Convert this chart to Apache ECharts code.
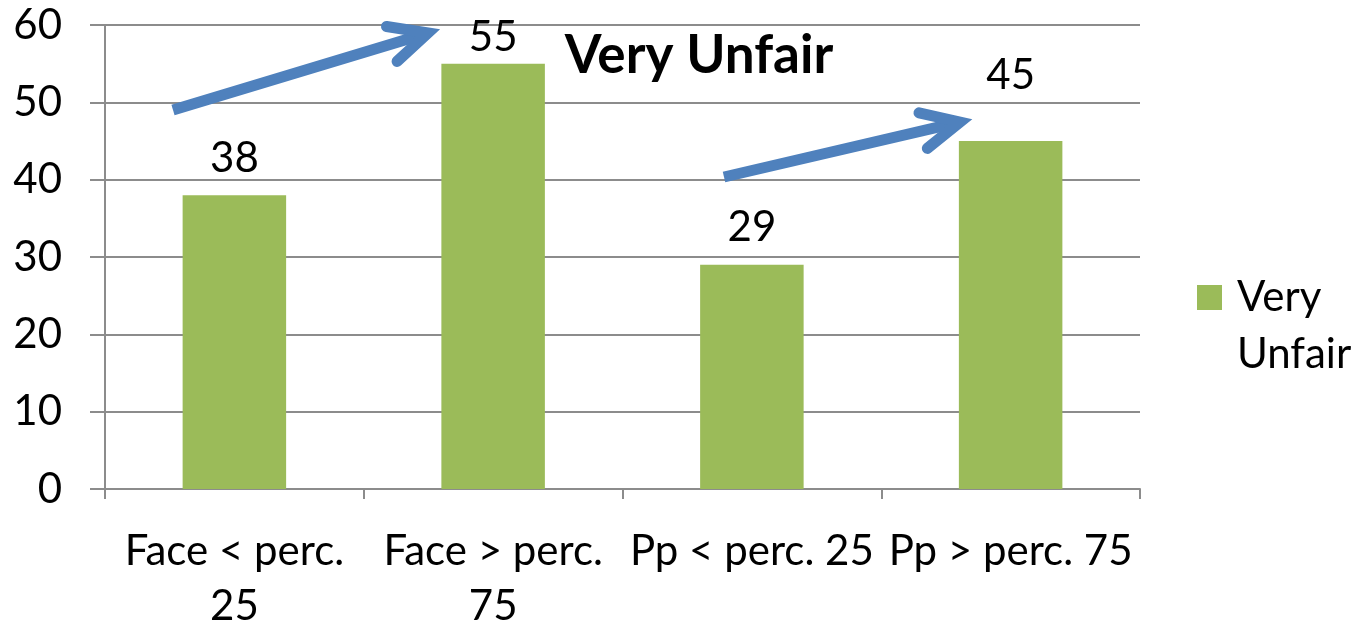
<!DOCTYPE html>
<html>
<head>
<meta charset="utf-8">
<script src="https://cdn.jsdelivr.net/npm/echarts@6/dist/echarts.min.js"></script>
<style>
  html, body { margin: 0; padding: 0; background: #fff; }
  #chart { width: 1362px; height: 628px; }
</style>
</head>
<body>
<div id="chart"></div>
<script>
const categories = ["Face < perc. 25", "Face > perc. 75", "Pp < perc. 25", "Pp > perc. 75"];
const tickLabels = ["Face < perc.\n25", "Face > perc.\n75", "Pp < perc. 25", "Pp > perc. 75"];
const veryUnfair = [38, 55, 29, 45];
const seriesName = "Very Unfair";

const font = "Lato, 'Noto Sans', sans-serif";
const green = "#9BBB59";
const blue = "#4F81BD";
const gridColor = "#8C8C8C";

// the two value labels that were nudged by hand in the original
const labelDistance = { 1: 5, 3: 45 };

// annotation arrows (pixel positions, decoration only)
function arrow(x1, y1, x2, y2) {
  const ang = Math.atan2(y2 - y1, x2 - x1);
  const len = 42, spread = 0.45;
  const a1 = [x2 - len * Math.cos(ang - spread), y2 - len * Math.sin(ang - spread)];
  const a2 = [x2 - len * Math.cos(ang + spread), y2 - len * Math.sin(ang + spread)];
  const style = { stroke: blue, lineWidth: 11, fill: null };
  return [
    { type: "line", shape: { x1: x1, y1: y1, x2: x2 - 6 * Math.cos(ang), y2: y2 - 6 * Math.sin(ang) }, style: style, z: 100 },
    { type: "polyline", shape: { points: [a1, [x2, y2], a2] }, style: Object.assign({ lineCap: "round", lineJoin: "miter" }, style), z: 100 }
  ];
}

const barData = veryUnfair.map(function (v, i) {
  return labelDistance[i] !== undefined ? { value: v, label: { distance: labelDistance[i] } } : v;
});

const myChart = echarts.init(document.getElementById("chart"));
const option = {
  animation: false,
  textStyle: { fontFamily: font },
  title: {
    text: "Very Unfair",
    left: 694,
    top: 24,
    textAlign: "center",
    textStyle: { fontFamily: font, fontSize: 53, fontWeight: "bold", color: "#000" }
  },
  legend: {
    data: [seriesName],
    left: 1197,
    top: 212,
    padding: 0,
    orient: "vertical",
    itemWidth: 25,
    itemHeight: 25,
    icon: "rect",
    formatter: function (name) { return "\n" + name.replace(" ", "\n"); },
    textStyle: { fontFamily: font, fontSize: 42, color: "#000", lineHeight: 57, padding: [0, 0, 0, 10] }
  },
  grid: { left: 105, right: 222, top: 25, bottom: 139, containLabel: false, outerBoundsMode: "none" },
  xAxis: {
    type: "category",
    data: categories,
    axisLine: { lineStyle: { color: gridColor, width: 2 } },
    axisTick: { show: true, length: 10, lineStyle: { color: gridColor, width: 2 } },
    axisLabel: {
      margin: 35,
      fontSize: 42,
      lineHeight: 55,
      color: "#000",
      fontFamily: font,
      interval: 0,
      formatter: function (v, i) { return tickLabels[i]; }
    }
  },
  yAxis: {
    type: "value",
    min: 0,
    max: 60,
    interval: 10,
    axisLine: { show: true, lineStyle: { color: gridColor, width: 2 } },
    axisTick: { show: true, length: 15, lineStyle: { color: gridColor, width: 2 } },
    axisLabel: { margin: 43, fontSize: 42, color: "#000", fontFamily: font },
    splitLine: { lineStyle: { color: gridColor, width: 2 } }
  },
  series: [
    {
      name: seriesName,
      type: "bar",
      data: barData,
      barWidth: "40%",
      itemStyle: { color: green },
      label: {
        show: true,
        position: "top",
        distance: 16,
        fontSize: 42,
        color: "#000",
        fontFamily: font
      }
    }
  ],
  graphic: arrow(173, 110, 428, 33).concat(arrow(724, 177, 960, 122))
};
myChart.setOption(option);
</script>
</body>
</html>
